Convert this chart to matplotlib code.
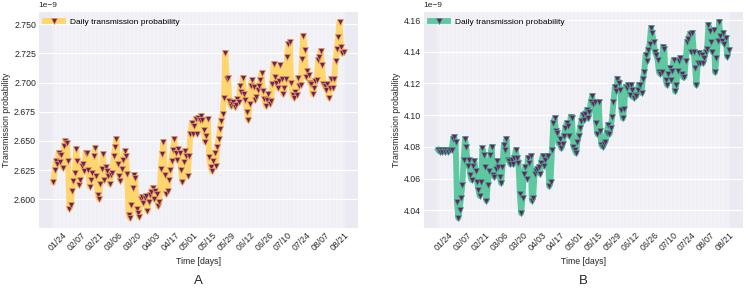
import matplotlib
matplotlib.use("Agg")
import matplotlib.pyplot as plt
import matplotlib.dates as mdates
import pandas as pd

plt.rcParams['font.family'] = ['Liberation Sans', 'DejaVu Sans']

# daily transmission probability (units of 1e-9), panel A
prob_a = [
    2.615, 2.625, 2.633, 2.630, 2.640, 2.632, 2.638, 2.627, 2.646, 2.650, 2.648, 2.633,
    2.592, 2.595, 2.607, 2.616, 2.623, 2.643, 2.633, 2.612, 2.617, 2.629, 2.630, 2.624, 2.640, 2.640,
    2.625, 2.611, 2.617, 2.623, 2.637, 2.644, 2.620, 2.604, 2.600, 2.613, 2.626, 2.639,
    2.617, 2.628, 2.624, 2.620, 2.613, 2.621, 2.623, 2.637, 2.645, 2.652, 2.630, 2.620,
    2.616, 2.626, 2.634, 2.641, 2.637, 2.622, 2.587, 2.584, 2.595, 2.610, 2.621, 2.618,
    2.592, 2.588, 2.585, 2.600, 2.602, 2.597, 2.601, 2.603, 2.590, 2.598, 2.604, 2.606, 2.610,
    2.600, 2.607, 2.605, 2.594, 2.598, 2.626, 2.639, 2.649, 2.621, 2.605, 2.607, 2.617, 2.625,
    2.633, 2.642, 2.652, 2.640, 2.634, 2.643, 2.640, 2.625, 2.615, 2.632, 2.641, 2.637, 2.620,
    2.637, 2.656, 2.665, 2.656, 2.663, 2.669, 2.656, 2.670, 2.668, 2.671, 2.668, 2.659, 2.649,
    2.654, 2.669, 2.636, 2.628, 2.624, 2.633, 2.640, 2.629, 2.645, 2.652, 2.660, 2.667, 2.673,
    2.687, 2.725, 2.703, 2.704, 2.684, 2.680, 2.682, 2.683, 2.679, 2.681, 2.686, 2.683, 2.697,
    2.692, 2.704, 2.690, 2.685, 2.675, 2.668, 2.682, 2.697, 2.702, 2.696, 2.685, 2.688, 2.694,
    2.697, 2.702, 2.708, 2.693, 2.686, 2.680, 2.685, 2.690, 2.682, 2.684, 2.699, 2.716, 2.705,
    2.700, 2.695, 2.701, 2.715, 2.703, 2.690, 2.695, 2.703, 2.722, 2.733, 2.735, 2.700, 2.689,
    2.687, 2.692, 2.689, 2.704, 2.697, 2.698, 2.720, 2.740, 2.728, 2.705, 2.710, 2.706, 2.700,
    2.699, 2.690, 2.695, 2.701, 2.702, 2.719, 2.722, 2.727, 2.715, 2.699, 2.697, 2.694, 2.699,
    2.687, 2.695, 2.703, 2.695, 2.703, 2.718, 2.729, 2.739, 2.752, 2.730, 2.725, 2.726,
]

# panel B
prob_b = [
    4.078, 4.077, 4.078, 4.077, 4.078, 4.077, 4.078, 4.077, 4.078, 4.078, 4.078,
    4.085, 4.086, 4.083, 4.045, 4.035, 4.040, 4.048, 4.056, 4.072, 4.085, 4.080, 4.068, 4.072,
    4.062, 4.059, 4.068, 4.071, 4.065, 4.058, 4.053, 4.049, 4.058, 4.079, 4.075, 4.067,
    4.046, 4.056, 4.065, 4.075, 4.080, 4.062, 4.061, 4.066, 4.071, 4.067, 4.061, 4.057, 4.067,
    4.081, 4.078, 4.085, 4.072, 4.071, 4.069, 4.072, 4.069, 4.073, 4.078, 4.073, 4.070,
    4.050, 4.038, 4.048, 4.063, 4.067, 4.060, 4.073, 4.070, 4.074, 4.046, 4.048, 4.063,
    4.065, 4.066, 4.067, 4.063, 4.070, 4.074, 4.068, 4.072, 4.074, 4.074, 4.055, 4.058,
    4.078, 4.095, 4.098, 4.090, 4.089, 4.082, 4.085, 4.079, 4.082, 4.087, 4.092, 4.095, 4.093,
    4.087, 4.099, 4.098, 4.080, 4.078, 4.076, 4.083, 4.087, 4.092, 4.096, 4.100, 4.097, 4.101,
    4.103, 4.098, 4.102, 4.108, 4.112, 4.107, 4.108, 4.095, 4.088, 4.108, 4.090, 4.081, 4.080,
    4.082, 4.083, 4.089, 4.094, 4.088, 4.092, 4.099, 4.108, 4.118, 4.115, 4.123, 4.120, 4.116,
    4.103, 4.098, 4.104, 4.118, 4.117, 4.119, 4.113, 4.119, 4.116, 4.111, 4.113, 4.112, 4.116,
    4.119, 4.119, 4.114, 4.123, 4.127, 4.138, 4.134, 4.141, 4.145, 4.155, 4.152, 4.146, 4.140,
    4.138, 4.135, 4.127, 4.126, 4.127, 4.143, 4.142, 4.122, 4.119, 4.126, 4.130, 4.122, 4.128,
    4.135, 4.115, 4.119, 4.128, 4.134, 4.136, 4.126, 4.124, 4.124, 4.134, 4.146, 4.148,
    4.151, 4.140, 4.152, 4.140, 4.130, 4.119, 4.133, 4.139, 4.133, 4.138, 4.133, 4.136,
    4.140, 4.142, 4.157, 4.153, 4.146, 4.140, 4.154, 4.127, 4.136, 4.147, 4.159, 4.150,
    4.147, 4.152, 4.145, 4.149, 4.137, 4.141,
]

start_a = '2020-01-21'
start_b = '2020-01-20'
tick_dates = pd.date_range('2020-01-24', '2020-08-21', freq='14D')

panels = [
    (prob_a, start_a, '#FFD56E', '#E8A050', 'A'),
    (prob_b, start_b, '#5FC8A0', '#3FA88A', 'B'),
]

fig = plt.figure(figsize=(7.46, 2.90), dpi=100)
lefts = [0.052, 0.568]

for (vals, start, col, edge, letter), left in zip(panels, lefts):
    ax = fig.add_axes([left, 0.214, 0.428, 0.745])
    dates = pd.date_range(start, periods=len(vals), freq='D')

    ax.set_facecolor('#EAEAF2')
    for s in ax.spines.values():
        s.set_visible(False)

    ax.plot(dates, vals, color=col, lw=4.2, marker='v', ms=4.2,
            mfc='#6E1E64', mec=edge, mew=0.5,
            label='Daily transmission probability', zorder=3)

    ax.set_xticks(dates, minor=True)
    ax.set_xticks(tick_dates)
    ax.xaxis.set_major_formatter(mdates.DateFormatter('%m/%d'))
    ax.grid(which='minor', axis='x', color='white', lw=0.35, zorder=0)
    ax.grid(which='major', axis='x', color='white', lw=0.35, zorder=0)
    ax.grid(which='major', axis='y', color='white', lw=0.9, zorder=0)
    ax.set_axisbelow(True)

    ax.tick_params(which='both', length=0, labelsize=6.3, colors='#262626', pad=2)
    for lab in ax.get_xticklabels():
        lab.set_rotation(45)
    # values are in units of 1e-9
    ax.text(0.0, 1.012, '1e\u22129', transform=ax.transAxes, fontsize=6.0,
            color='#262626', ha='left', va='bottom')

    ax.set_xlabel('Time [days]', fontsize=6.3, color='#262626', labelpad=3)
    ax.set_ylabel('Transmission probability', fontsize=6.3, color='#262626', labelpad=2)
    ax.legend(loc='upper left', frameon=False, fontsize=6.0, handlelength=2.2,
              borderaxespad=0.3)

    fig.text(left + 0.214, 0.022, letter, ha='center', fontsize=9.5, color='#262626')

fig.savefig('out.png', dpi=100)
